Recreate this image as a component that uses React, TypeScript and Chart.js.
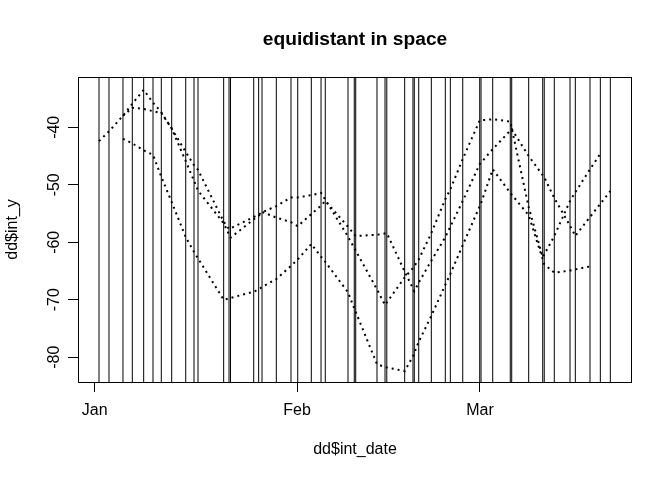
import React, { useEffect, useRef } from "react";
import { Chart, registerables } from "chart.js";

Chart.register(...registerables);

// x values are days since 1 January
const monthTickDays = [0, 31, 59];
const monthTickLabels = ["Jan", "Feb", "Mar"];
const yTickValues = [-80, -70, -60, -50, -40];

const titleText = "equidistant in space";
const xAxisLabel = "dd$int_date";
const yAxisLabel = "dd$int_y";

// dates of the vertical reference lines (abline v = dd$int_date)
const verticalLineDays = [
  0.66, 2.19, 4.33, 5.76, 7.5, 8.93, 10.2, 11.79, 13.94, 15.21, 15.82, 19.75,
  20.57, 20.8, 24.35, 25.11, 25.62, 27.81, 30.06, 31.09, 33.17, 34.66, 35.31,
  38.79, 39.75, 39.97, 43.23, 44.46, 44.73, 47.47, 48.74, 48.94, 49.62, 51.55,
  53.69, 54.46, 56.36, 58.96, 59.16, 60.95, 63.64, 63.86, 66.46, 68.61, 68.84,
  70.38, 72.79, 73.6, 75.85, 77.43, 78.96,
];

const seriesADays = [
  0.66, 2.19, 4.33, 5.76, 7.5, 8.93, 10.2, 11.79, 13.94, 15.21, 15.82, 19.75,
  20.8, 24.35, 25.11, 25.62, 27.81, 30.06, 31.09, 33.17, 34.66, 35.31, 38.79,
  39.97, 43.23, 44.73, 47.47, 48.94, 49.62, 51.55, 53.69, 54.46, 56.36, 58.96,
  60.95, 63.86, 66.46, 68.84, 70.38, 72.79, 73.6, 75.85, 77.43, 78.96,
];
const seriesAValues = [
  -42.4, -40.7, -38.0, -35.9, -33.5, -35.7, -37.4, -40.2, -45.9, -49.3, -51.0,
  -56.7, -59.2, -56.0, -55.4, -54.7, -55.7, -56.5, -57.2, -55.1, -53.6, -52.8,
  -57.3, -58.9, -58.7, -58.4, -65.1, -68.5, -67.0, -63.2, -59.1, -57.3, -52.8,
  -46.4, -43.8, -40.3, -45.0, -48.7, -52.3, -57.1, -58.9, -55.6, -53.3, -51.1,
];

const seriesBDays = [
  4.33, 5.76, 7.5, 8.93, 10.2, 11.79, 13.94, 15.21, 15.82, 19.75, 20.57, 24.35,
  25.11, 25.62, 27.81, 30.06, 31.09, 33.17, 34.66, 35.31, 38.79, 39.75, 43.23,
  44.46, 47.47, 48.74, 49.62, 51.55, 53.69, 54.46, 56.36, 58.96, 60.95, 63.64,
  66.46, 68.61, 70.38, 72.79, 73.6, 75.85, 77.43,
];
const seriesBValues = [
  -38.0, -36.6, -36.8, -37.2, -37.5, -40.2, -44.3, -46.6, -47.4, -56.4, -57.7,
  -55.6, -55.2, -54.8, -53.7, -52.2, -52.2, -51.8, -51.4, -52.6, -59.0, -61.0,
  -68.2, -70.9, -66.1, -64.5, -63.0, -58.4, -52.5, -50.8, -45.5, -38.8, -38.6,
  -39.0, -53.9, -62.6, -58.9, -52.8, -51.3, -47.3, -44.6,
];

const seriesCDays = [
  4.33, 5.76, 7.5, 8.93, 10.2, 11.79, 13.94, 15.21, 15.82, 19.75, 24.35, 25.11,
  25.62, 27.81, 30.06, 31.09, 33.17, 34.66, 35.31, 38.79, 39.75, 43.23, 44.46,
  47.47, 48.74, 49.62, 51.55, 53.69, 54.46, 56.36, 59.16, 60.95, 63.64, 66.46,
  68.84, 70.38, 72.79, 75.85,
];
const seriesCValues = [
  -42.0, -42.8, -44.0, -44.8, -48.6, -53.0, -59.1, -61.7, -62.8, -70.0, -68.6,
  -68.2, -67.8, -66.4, -64.1, -63.0, -60.3, -62.5, -63.4, -68.7, -71.5, -81.2,
  -81.7, -82.4, -79.8, -77.3, -72.8, -67.4, -65.5, -60.5, -53.2, -47.3, -51.4,
  -55.3, -63.8, -65.3, -64.9, -64.2,
];

const X_MIN = -2.557;
const X_MAX = 82.28;
const Y_MIN = -84.3;
const Y_MAX = -31.25;

const FONT = "'Liberation Sans', Arial, Helvetica, sans-serif";

function toPoints(days: number[], values: number[]) {
  return days.map((d, i) => ({ x: d, y: values[i] }));
}

export default function App() {
  const canvasRef = useRef<HTMLCanvasElement | null>(null);

  useEffect(() => {
    document.body.style.margin = "0";
    const canvas = canvasRef.current;
    if (!canvas) return;

    const vlineData: { x: number; y: number | null }[] = [];
    verticalLineDays.forEach((d) => {
      vlineData.push({ x: d, y: Y_MIN - 50 });
      vlineData.push({ x: d, y: Y_MAX + 50 });
      vlineData.push({ x: d, y: null });
    });

    const dotted = {
      borderColor: "#000",
      borderWidth: 2,
      borderDash: [2, 4],
      pointRadius: 0,
      fill: false,
      tension: 0,
      showLine: true,
    };

    const framePlugin = {
      id: "rframe",
      afterDatasetsDraw(chart: any) {
        const { ctx, chartArea } = chart;
        ctx.save();
        ctx.strokeStyle = "#000";
        ctx.lineWidth = 1;
        ctx.setLineDash([]);
        ctx.strokeRect(
          chartArea.left + 0.5,
          chartArea.top + 0.5,
          chartArea.right - chartArea.left - 1,
          chartArea.bottom - chartArea.top
        );
        const yScale = chart.scales.y;
        ctx.fillStyle = "#000";
        ctx.font = `16px ${FONT}`;
        ctx.textAlign = "center";
        ctx.textBaseline = "middle";
        yTickValues.forEach((v) => {
          const py = yScale.getPixelForValue(v);
          ctx.save();
          ctx.translate(54.5, py);
          ctx.rotate(-Math.PI / 2);
          ctx.fillText(String(v), 0, 0);
          ctx.restore();
        });
        ctx.restore();
      },
    };

    const tickGrid = {
      display: true,
      drawOnChartArea: false,
      drawTicks: true,
      tickLength: 10,
      color: "#000",
      lineWidth: 1,
    };

    const chart = new Chart(canvas, {
      type: "line",
      data: {
        datasets: [
          {
            label: "dates",
            data: vlineData as any,
            borderColor: "#000",
            borderWidth: 1,
            pointRadius: 0,
            spanGaps: false,
            tension: 0,
          },
          { label: "A", data: toPoints(seriesADays, seriesAValues), ...dotted },
          { label: "B", data: toPoints(seriesBDays, seriesBValues), ...dotted },
          { label: "C", data: toPoints(seriesCDays, seriesCValues), ...dotted },
        ],
      },
      options: {
        responsive: false,
        animation: false,
        devicePixelRatio: 1,
        layout: { padding: { left: 0, right: 40, top: 0, bottom: 0 } },
        plugins: {
          legend: { display: false },
          tooltip: { enabled: false },
          title: {
            display: true,
            text: titleText,
            fullSize: false,
            color: "#000",
            font: { family: FONT, size: 19.2, weight: "bold", lineHeight: 1.2 },
            padding: { top: 28, bottom: 25.96 },
          },
        },
        scales: {
          x: {
            type: "linear",
            position: "bottom",
            min: X_MIN,
            max: X_MAX,
            afterBuildTicks: (s: any) => {
              s.ticks = monthTickDays.map((v) => ({ value: v }));
            },
            afterFit: (s: any) => {
              s.height = 98;
            },
            grid: tickGrid,
            border: { display: false },
            ticks: {
              autoSkip: false,
              maxRotation: 0,
              minRotation: 0,
              padding: 8.7,
              color: "#000",
              font: { family: FONT, size: 16 },
              callback: (_v: any, i: number) => monthTickLabels[i],
            },
            title: {
              display: true,
              text: xAxisLabel,
              color: "#000",
              font: { family: FONT, size: 16 },
              padding: { top: 0, bottom: 20.9 },
            },
          },
          y: {
            type: "linear",
            position: "left",
            min: Y_MIN,
            max: Y_MAX,
            afterBuildTicks: (s: any) => {
              s.ticks = yTickValues.map((v) => ({ value: v }));
            },
            afterFit: (s: any) => {
              s.width = 78;
            },
            grid: tickGrid,
            border: { display: false },
            ticks: { display: false },
            title: {
              display: true,
              text: yAxisLabel,
              color: "#000",
              font: { family: FONT, size: 16 },
              padding: { top: 3.2, bottom: 0 },
            },
          },
        },
      } as any,
      plugins: [framePlugin],
    });

    return () => chart.destroy();
  }, []);

  return (
    <div style={{ width: 672, height: 480 }}>
      <canvas ref={canvasRef} width={672} height={480} style={{ display: "block" }} />
    </div>
  );
}
